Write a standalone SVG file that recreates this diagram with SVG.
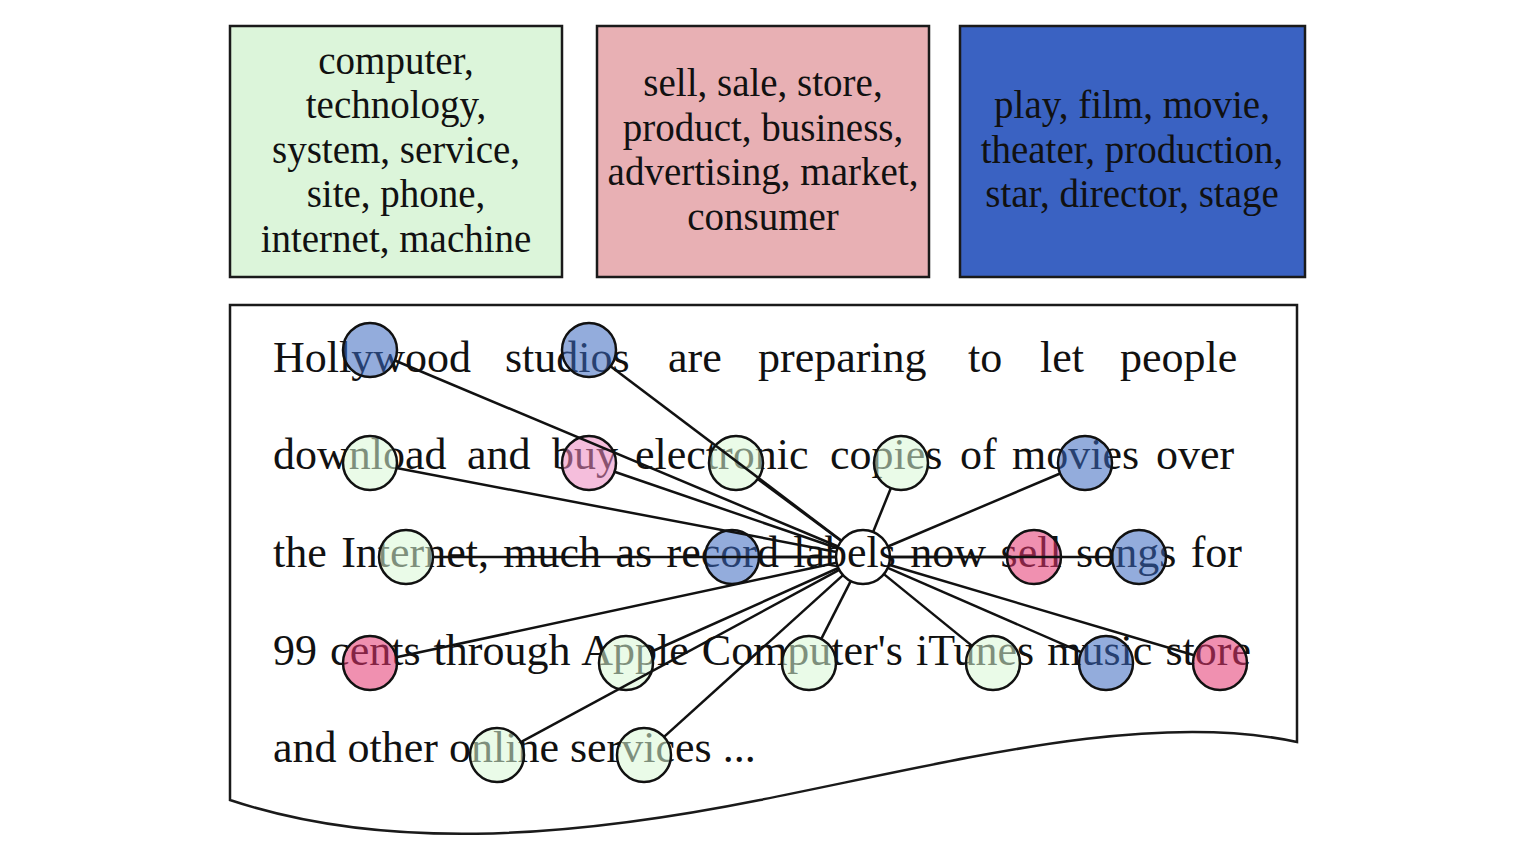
<svg xmlns="http://www.w3.org/2000/svg" width="1524" height="844" viewBox="0 0 1524 844">
<style>
.box{stroke:#1a1a1a;stroke-width:2.5}
.bt{font-family:"Liberation Serif",serif;font-size:39px;fill:#111;text-anchor:middle}
.mt{font-family:"Liberation Serif",serif;font-size:44px;fill:#111}
.n{stroke:#111;stroke-width:2.5;fill-opacity:0.55}
.blue{fill:#3b68bf}
.green{fill:#d9f8d5}
.lpink{fill:#ec89c0}
.pink{fill:#e43570}
.c{fill:none;stroke:#111;stroke-width:2.5}
#connectors line{stroke:#111;stroke-width:2.5}
</style>
<rect width="1524" height="844" fill="#fff"/>
<g id="topic-technology">
<rect class="box" x="230" y="26" width="332" height="251" fill="#dcf5da"/>
<text class="bt" x="396" y="74">computer,</text>
<text class="bt" x="396" y="118">technology,</text>
<text class="bt" x="396" y="163">system, service,</text>
<text class="bt" x="396" y="207">site, phone,</text>
<text class="bt" x="396" y="252">internet, machine</text>
</g>
<g id="topic-business">
<rect class="box" x="597" y="26" width="332" height="251" fill="#e8b0b4"/>
<text class="bt" x="763" y="96">sell, sale, store,</text>
<text class="bt" x="763" y="141">product, business,</text>
<text class="bt" x="763" y="185">advertising, market,</text>
<text class="bt" x="763" y="230">consumer</text>
</g>
<g id="topic-film">
<rect class="box" x="960" y="26" width="345" height="251" fill="#3a62c2"/>
<text class="bt" x="1132" y="118">play, film, movie,</text>
<text class="bt" x="1132" y="163">theater, production,</text>
<text class="bt" x="1132" y="207">star, director, stage</text>
</g>
<g id="document">
<path d="M230,305 H1297 V742 C1150,710 960,760 760,800 C560,840 380,850 230,800 Z" fill="#fff" stroke="#1a1a1a" stroke-width="2.5"/>
<text class="mt" y="372"><tspan x="273">Hollywood</tspan><tspan x="505">studios</tspan><tspan x="668">are</tspan><tspan x="758">preparing</tspan><tspan x="968">to</tspan><tspan x="1040">let</tspan><tspan x="1120">people</tspan></text>
<text class="mt" y="469"><tspan x="273">download</tspan><tspan x="467">and</tspan><tspan x="552">buy</tspan><tspan x="635">electronic</tspan><tspan x="830">copies</tspan><tspan x="960">of</tspan><tspan x="1012">movies</tspan><tspan x="1156">over</tspan></text>
<text class="mt" x="273" y="567" word-spacing="3.4">the Internet, much as record labels now sell songs for</text>
<text class="mt" x="273" y="665" word-spacing="2.1">99 cents through Apple Computer's iTunes music store</text>
<text class="mt" x="273" y="762">and other online services ...</text>
</g>
<g id="word-nodes">
<g id="n-hollywood"><circle class="n blue" cx="370" cy="350" r="27"/></g>
<g id="n-studios"><circle class="n blue" cx="589" cy="350" r="27"/></g>
<g id="n-download"><circle class="n green" cx="370" cy="463" r="27"/></g>
<g id="n-buy"><circle class="n lpink" cx="589" cy="463" r="27"/></g>
<g id="n-electronic"><circle class="n green" cx="736" cy="463" r="27"/></g>
<g id="n-copies"><circle class="n green" cx="901" cy="463" r="27"/></g>
<g id="n-movies"><circle class="n blue" cx="1085" cy="463" r="27"/></g>
<g id="n-internet"><circle class="n green" cx="406" cy="557" r="27"/></g>
<g id="n-record"><circle class="n blue" cx="732" cy="557" r="27"/></g>
<g id="n-labels"><circle class="c" cx="863" cy="557" r="27"/></g>
<g id="n-sell"><circle class="n pink" cx="1034" cy="557" r="27"/></g>
<g id="n-songs"><circle class="n blue" cx="1139" cy="557" r="27"/></g>
<g id="n-cents"><circle class="n pink" cx="370" cy="663" r="27"/></g>
<g id="n-apple"><circle class="n green" cx="626" cy="663" r="27"/></g>
<g id="n-computers"><circle class="n green" cx="809" cy="663" r="27"/></g>
<g id="n-itunes"><circle class="n green" cx="993" cy="663" r="27"/></g>
<g id="n-music"><circle class="n blue" cx="1106" cy="663" r="27"/></g>
<g id="n-store"><circle class="n pink" cx="1220" cy="663" r="27"/></g>
<g id="n-online"><circle class="n green" cx="497" cy="755" r="27"/></g>
<g id="n-services"><circle class="n green" cx="644" cy="755" r="27"/></g>
</g>
<g id="connectors">
<line x1="838.1" y1="546.5" x2="394.9" y2="360.5"/>
<line x1="841.5" y1="540.7" x2="610.5" y2="366.3"/>
<line x1="836.5" y1="551.9" x2="396.5" y2="468.1"/>
<line x1="837.5" y1="548.2" x2="614.5" y2="471.8"/>
<line x1="841.3" y1="540.9" x2="757.7" y2="479.1"/>
<line x1="873.1" y1="532.0" x2="890.9" y2="488.0"/>
<line x1="887.9" y1="546.5" x2="1060.1" y2="473.5"/>
<line x1="836" y1="557" x2="433" y2="557"/>
<line x1="836" y1="557" x2="759" y2="557"/>
<line x1="890" y1="557" x2="1007" y2="557"/>
<line x1="890" y1="557" x2="1112" y2="557"/>
<line x1="836.6" y1="562.7" x2="396.4" y2="657.3"/>
<line x1="838.3" y1="568.0" x2="650.7" y2="652.0"/>
<line x1="850.7" y1="581.1" x2="821.3" y2="638.9"/>
<line x1="883.9" y1="574.1" x2="972.1" y2="645.9"/>
<line x1="887.8" y1="567.8" x2="1081.2" y2="652.2"/>
<line x1="888.9" y1="564.7" x2="1194.1" y2="655.3"/>
<line x1="839.2" y1="569.9" x2="520.8" y2="742.1"/>
<line x1="843.0" y1="575.1" x2="664.0" y2="736.9"/>
</g>
</svg>
